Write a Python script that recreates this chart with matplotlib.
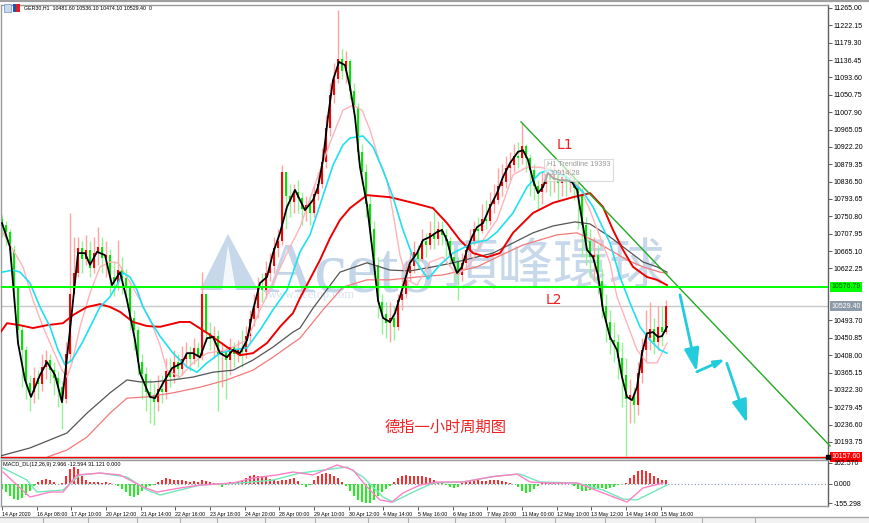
import numpy as np
import matplotlib
matplotlib.use("Agg")
import matplotlib.pyplot as plt
import matplotlib.transforms as mtransforms
from matplotlib.patches import Rectangle, Polygon
from matplotlib.lines import Line2D

plt.rcParams['font.family'] = ['Liberation Sans', 'DejaVu Sans', 'Noto Sans CJK SC']

# ---------------- data (3-hour slots, GER30) ----------------
first_open = 10745
close = [10730, 10712, 10668, 10575, 10470, 10420, 10340, 10318, 10352, 10338,
         10378, 10395, 10372, 10352, 10330, 10300, 10410, 10560, 10612, 10672,
         10645, 10668, 10622, 10660, 10675, 10648, 10655, 10600, 10585, 10618,
         10598, 10575, 10500, 10470, 10390, 10362, 10318, 10310, 10292, 10325,
         10318, 10368, 10355, 10392, 10375, 10398, 10412, 10398, 10425, 10405,
         10560, 10462, 10448, 10455, 10410, 10418, 10395, 10428, 10410, 10420,
         10415, 10455, 10498, 10525, 10580, 10570, 10610, 10628, 10672, 10690,
         10860, 10800, 10785, 10812, 10795, 10770, 10778, 10760, 10805, 10830,
         10885, 10970, 11050, 11090, 11140, 11110, 11135, 11060, 11020, 10910,
         10860, 10780, 10720, 10630, 10540, 10510, 10488, 10500, 10478, 10545,
         10560, 10610, 10628, 10662, 10645, 10690, 10680, 10710, 10695, 10720,
         10705, 10690, 10650, 10640, 10605, 10635, 10668, 10690, 10720, 10715,
         10745, 10740, 10780, 10790, 10825, 10835, 10870, 10878, 10900, 10895,
         10925, 10895, 10865, 10825, 10812, 10830, 10855, 10840, 10852, 10832,
         10848, 10835, 10842, 10820, 10805, 10730, 10690, 10650, 10655, 10590,
         10530, 10490, 10445, 10440, 10400, 10360, 10300, 10310, 10285, 10365,
         10420, 10450, 10472, 10440, 10478, 10465, 10529]
high = [10754, 10740, 10720, 10680, 10580, 10480, 10430, 10360, 10380, 10372,
        10410, 10420, 10410, 10390, 10370, 10345, 10440, 10759, 10700, 10700,
        10690, 10705, 10690, 10700, 10724, 10700, 10690, 10670, 10640, 10692,
        10650, 10620, 10590, 10520, 10480, 10410, 10380, 10350, 10340, 10360,
        10360, 10400, 10400, 10420, 10410, 10430, 10440, 10430, 10450, 10440,
        10613, 10560, 10490, 10480, 10470, 10440, 10430, 10450, 10440, 10445,
        10470, 10480, 10520, 10560, 10600, 10610, 10640, 10660, 10700, 10720,
        10877, 10850, 10830, 10830, 10840, 10810, 10800, 10800, 10830, 10860,
        10920, 11000, 11080, 11130, 11260, 11165, 11160, 11140, 11080, 11030,
        10930, 10880, 10800, 10740, 10650, 10560, 10540, 10540, 10530, 10560,
        10600, 10640, 10660, 10690, 10680, 10720, 10710, 10740, 10761, 10740,
        10740, 10720, 10700, 10670, 10650, 10660, 10690, 10720, 10740, 10750,
        10780, 10790, 10810, 10830, 10870, 10880, 10900, 10910, 10930, 10935,
        10980, 10930, 10905, 10880, 10840, 10860, 10880, 10875, 10880, 10870,
        10870, 10880, 10870, 10860, 10840, 10820, 10750, 10720, 10700, 10680,
        10620, 10560, 10520, 10490, 10460, 10440, 10400, 10350, 10330, 10390,
        10450, 10520, 10540, 10500, 10530, 10530, 10545]
low = [10700, 10680, 10640, 10540, 10440, 10330, 10300, 10270, 10290, 10300,
       10320, 10350, 10340, 10310, 10280, 10225, 10290, 10390, 10560, 10600,
       10610, 10630, 10600, 10610, 10630, 10610, 10600, 10560, 10555, 10570,
       10560, 10540, 10470, 10420, 10360, 10300, 10270, 10240, 10235, 10270,
       10290, 10300, 10330, 10340, 10350, 10360, 10380, 10370, 10385, 10380,
       10395, 10440, 10420, 10400, 10270, 10330, 10300, 10360, 10380, 10390,
       10380, 10400, 10440, 10480, 10500, 10540, 10550, 10590, 10610, 10650,
       10680, 10720, 10750, 10760, 10760, 10730, 10740, 10730, 10750, 10790,
       10820, 10870, 10950, 11030, 11080, 11090, 11080, 11040, 10990, 10890,
       10830, 10750, 10690, 10600, 10500, 10460, 10450, 10440, 10445, 10470,
       10520, 10550, 10590, 10610, 10620, 10640, 10650, 10670, 10670, 10680,
       10680, 10650, 10630, 10590, 10544, 10590, 10620, 10650, 10680, 10690,
       10710, 10720, 10730, 10760, 10780, 10800, 10820, 10840, 10860, 10870,
       10880, 10860, 10800, 10790, 10770, 10780, 10810, 10800, 10810, 10790,
       10800, 10800, 10810, 10790, 10720, 10650, 10630, 10600, 10590, 10560,
       10500, 10440, 10410, 10390, 10350, 10280, 10158, 10240, 10240, 10260,
       10340, 10390, 10420, 10410, 10420, 10430, 10460]

# moving averages (slot position, price)
black_x = [0, 2, 4, 5.75, 7.25, 9.5, 11.25, 13.25, 15, 17, 19, 20.75, 22, 23.75, 25.75, 27.5, 29.5, 31.25,
           33.25, 34.5, 37, 38.25, 40.25, 42.5, 45, 46.25, 47.75, 49.5, 51.25, 52.75, 54.5, 56.25, 57.75,
           59.5, 61.25, 62.75, 64.5, 66.25, 67.75, 69.5, 71.25, 73.25, 74.5, 75.75, 77.75, 79, 80.25, 81.5,
           82.75, 84.25, 85.75, 87, 88.25, 89.5, 91.25, 92.75, 94, 95.25, 97, 98.25, 99.5, 100.75, 102,
           103.75, 105.25, 107, 108.75, 110, 111.25, 112.5, 113.75, 115, 116.25, 117.5, 118.75, 120.25, 122,
           123.75, 125.25, 127, 129, 130.25, 131.5, 132.75, 134, 135.25, 136.5, 137.75, 139.5, 141.25, 142.5,
           143.75, 145, 146.25, 147.75, 149, 150.25, 152, 153.75, 155, 156.25, 157.5, 158.75, 160, 161.25,
           162.75, 164, 165, 166.25]
black_y = [10734, 10675, 10438, 10347, 10305, 10359, 10391, 10359, 10292, 10470, 10660, 10660, 10631, 10663,
           10655, 10581, 10613, 10544, 10445, 10364, 10305, 10302, 10339, 10376, 10389, 10413, 10413, 10403,
           10450, 10453, 10413, 10403, 10421, 10413, 10445, 10519, 10586, 10601, 10660, 10710, 10774, 10816,
           10791, 10766, 10791, 10823, 10890, 10996, 11087, 11132, 11124, 11070, 10996, 10872, 10779, 10655,
           10544, 10500, 10490, 10512, 10552, 10594, 10636, 10660, 10692, 10700, 10712, 10717, 10692, 10643,
           10611, 10626, 10668, 10700, 10724, 10734, 10774, 10808, 10848, 10882, 10910, 10914, 10890, 10840,
           10808, 10823, 10858, 10845, 10840, 10840, 10835, 10816, 10742, 10668, 10650, 10606, 10520, 10453,
           10421, 10354, 10305, 10297, 10329, 10413, 10462, 10465, 10453, 10455, 10478]
cyan_x = [0, 2.75, 4.5, 7, 9.5, 12, 14, 15.75, 17.5, 20, 22.5, 24.5, 27, 29, 30.25, 32, 33.75, 35.25, 37.5,
          39.5, 42.75, 46.25, 48.75, 51.25, 54.5, 57.75, 61.25, 64.5, 67.75, 71.25, 74.5, 77, 79.5, 82.75,
          85.25, 87, 90.25, 92.75, 95.25, 97.75, 100.25, 102.75, 106.5, 109.5, 112.75, 117.75, 121.25, 123.75,
          127.75, 131.25, 134.5, 137, 141.25, 145.25, 147.75, 152, 154.5, 157, 159.5, 162, 164.5, 166.25]
cyan_y = [10613, 10618, 10613, 10586, 10527, 10478, 10421, 10384, 10396, 10438, 10487, 10527, 10552, 10586,
          10611, 10601, 10569, 10527, 10487, 10455, 10413, 10379, 10366, 10389, 10413, 10421, 10426, 10470,
          10520, 10569, 10663, 10705, 10779, 10877, 10927, 10944, 10949, 10922, 10865, 10798, 10717, 10650,
          10596, 10631, 10660, 10685, 10692, 10712, 10759, 10823, 10858, 10865, 10848, 10811, 10774, 10685,
          10601, 10537, 10478, 10445, 10421, 10413]
pink_x = [0.25, 2.75, 5.25, 7.75, 10.25, 12.75, 15, 16.25, 17.5, 19.5, 22, 24.5, 27, 29, 31.25, 34.5, 37.75,
          39.5, 41.25, 44.5, 47.75, 51.25, 56.25, 61.25, 64.5, 67.75, 71.25, 74.5, 77.75, 82, 85.25, 87.75,
          90, 92, 94.5, 96.25, 97.75, 99.5, 101.25, 103.75, 107, 110.25, 113.75, 117, 120.25, 123.75, 127.75,
          131.25, 134.5, 137.75, 141.25, 144.5, 147, 149.5, 152, 153.75, 156.25, 158.75, 161.25, 163.75, 166.25]
pink_y = [10710, 10668, 10626, 10544, 10478, 10421, 10371, 10354, 10389, 10478, 10561, 10626, 10638, 10636,
          10601, 10544, 10478, 10433, 10371, 10354, 10389, 10413, 10421, 10445, 10520, 10586, 10660, 10724,
          10816, 10932, 11013, 11025, 11013, 10964, 10882, 10840, 10759, 10655, 10594, 10581, 10638, 10650,
          10606, 10631, 10692, 10742, 10853, 10872, 10872, 10865, 10860, 10821, 10766, 10700, 10636, 10552,
          10487, 10421, 10389, 10389, 10438]
red_x = [-0.5, 1.25, 4.5, 7.75, 11.25, 15.25, 17.75, 21.25, 24.5, 27, 29.5, 32.75, 36.25, 39.5, 44.5, 47,
         51.25, 56.25, 59.5, 62.75, 66.25, 69.5, 72.75, 74.5, 79.5, 82, 84.5, 87, 91.25, 97, 102.75, 107.75,
         111.25, 114.5, 117.75, 121.25, 124.5, 127.75, 132.75, 137.75, 142.75, 147, 150.25, 152.75, 155.25,
         157.75, 161.25, 163.75, 166.25]
red_y = [10463, 10487, 10482, 10475, 10482, 10487, 10507, 10527, 10534, 10527, 10515, 10490, 10480, 10478,
         10490, 10490, 10463, 10428, 10408, 10413, 10438, 10478, 10512, 10549, 10643, 10697, 10742, 10771,
         10803, 10798, 10784, 10771, 10734, 10692, 10660, 10650, 10660, 10710, 10759, 10784, 10798, 10808,
         10774, 10717, 10668, 10626, 10601, 10594, 10581]
grey_x = [-0.5, 7, 12, 16.25, 21.25, 27, 31.25, 34.5, 37.75, 42.75, 47.75, 52.75, 57.75, 62.75, 67.75, 72.75,
          74.5, 77.75, 80.25, 84.5, 91.25, 97, 102, 107.75, 112.75, 117.75, 122.75, 127.75, 132.75, 137.75,
          143.25, 147, 152, 156.25, 160.25, 163.75, 166.25]
grey_y = [10159, 10179, 10199, 10216, 10265, 10315, 10347, 10342, 10342, 10347, 10354, 10366, 10371, 10396,
          10428, 10465, 10475, 10524, 10557, 10613, 10636, 10618, 10616, 10626, 10636, 10648, 10660, 10685,
          10710, 10727, 10737, 10732, 10700, 10668, 10638, 10626, 10613]
salmon_x = [11.5, 16.25, 21.25, 27, 31.25, 36.25, 42.75, 49.5, 56.25, 62.75, 67.75, 72.75, 74.5, 80.25, 85.25,
            91.25, 97, 103.75, 110.25, 118.75, 123.75, 130.25, 138.75, 143.75, 147.75, 152, 156.25, 160.25,
            164.5, 166.25]
salmon_y = [10157, 10174, 10206, 10265, 10302, 10305, 10315, 10329, 10347, 10371, 10403, 10438, 10450, 10520,
            10576, 10594, 10594, 10601, 10606, 10626, 10650, 10680, 10705, 10710, 10692, 10668, 10643, 10626,
            10613, 10610]

# MACD panel
macd_hist = [-40, -70, -100, -125, -130, -115, -90, -55, -20, 10,
             25, 35, 30, 15, -5, 5, 60, 110, 130, 115,
             60, 25, 15, 12, 10, 5, 8, 3, -5, -20,
             -45, -70, -100, -105, -90, -60, -35, -20, -10, 15,
             30, 40, 35, 30, 30, 25, 20, 15, 18, 15,
             25, 20, 10, 5, -15, -25, -10, 10, 15, 12,
             20, 40, 55, 65, 60, 55, 50, 35, 25, 20,
             25, 30, 35, 40, 20, -15, -30, -10, 30, 60,
             75, 82, 75, 60, 40, 15, -20, -60, -100, -130,
             -145, -153, -150, -130, -95, -70, -45, -20, 15, 45,
             60, 65, 62, 60, 58, 55, 50, 40, 25, 15,
             10, -10, -30, -35, -25, 5, 20, 28, 30, 25,
             22, 20, 25, 28, 25, 20, 8, 2, -5, -25,
             -55, -75, -70, -45, -20, 5, 8, 6, 5, 4,
             3, 2, -5, -20, -45, -55, -60, -50, -45, -40,
             -35, -40, -35, -30, -15, -5, 5, 40, 70, 95,
             105, 100, 80, 60, 40, 30, 28]
macd_main_x = [0.25, 7, 12, 15.25, 18.75, 24.5, 29.5, 35.25, 38.75, 44.5, 49.5, 57.75, 62.75, 68.75, 72.75,
               77.75, 83.75, 87.75, 91.25, 94.5, 97.5, 100.25, 104.5, 108.75, 115.25, 122, 128.75, 132,
               136.25, 143.75, 150.25, 156.25, 160.25, 165.25]
macd_main = [90, -106, -67, -67, 67, 82, 67, -27, -67, -35, -12, 4, 43, 67, 90, 67, 145, 106, -27, -129,
             -145, -74, -12, 12, 12, 51, 74, 12, 4, 4, -74, -145, -35, 4]
macd_sig_x = [0.25, 6.25, 8.75, 15.25, 19.5, 24.5, 31.25, 36.25, 39.5, 49.5, 59.5, 67.75, 74.5, 86.25, 90.25,
              95.25, 97.75, 102.75, 107.75, 115.25, 123.75, 129.5, 134.5, 143.75, 150.25, 155.25, 158.75,
              163.75, 166.25]
macd_sig = [121, 27, -67, -51, 67, 82, 51, -51, -90, -12, 4, 27, 82, 129, 51, -106, -145, -67, 4, 12, 59, 74,
            12, 4, -51, -121, -129, -51, -12]

price_ticks = [11265.00, 11222.15, 11179.30, 11136.45, 11093.60, 11050.75, 11007.90, 10965.05, 10922.20,
               10879.35, 10836.50, 10793.65, 10750.80, 10707.95, 10665.10, 10622.25, 10493.70, 10450.85,
               10408.00, 10365.15, 10322.30, 10279.45, 10236.60, 10193.75]
time_labels = ["14 Apr 2020", "16 Apr 08:00", "17 Apr 10:00", "20 Apr 12:00", "21 Apr 14:00",
               "22 Apr 16:00", "23 Apr 18:00", "24 Apr 20:00", "28 Apr 00:00", "29 Apr 10:00",
               "30 Apr 12:00", "4 May 14:00", "5 May 16:00", "6 May 18:00", "7 May 20:00",
               "11 May 00:00", "12 May 10:00", "13 May 12:00", "14 May 14:00", "15 May 16:00"]
level_l2 = 10576.79
level_bid = 10529.40
level_low = 10157.60
trend_pts = ([129.75, 207.0], [10984, 10184])

# ---------------- figure ----------------
W, H = 870, 523
def fx(px): return px / W
def fy(py): return 1 - py / H

SMALL = 'Liberation Sans'

fig = plt.figure(figsize=(8.7, 5.23), dpi=100)
fig.patch.set_facecolor('white')
ax = fig.add_axes([fx(1), fy(458), fx(828) - fx(1), fy(5) - fy(458)])
ax2 = fig.add_axes([fx(1), fy(506), fx(828) - fx(1), fy(460) - fy(506)])

XL = (-0.25, 206.5)
ax.set_xlim(*XL)
ax.set_ylim(10154.2, 11272.4)
ax2.set_xlim(*XL)
ax2.set_ylim(-176, 184)

# watermark
wm = '#b4cbe3'
ax.add_patch(Polygon([[fx(200), fy(290)], [fx(228), fy(234)], [fx(258), fy(290)]], closed=True,
                     transform=fig.transFigure, fc=wm, ec='none', alpha=0.75, zorder=0.4))
ax.add_patch(Polygon([[fx(222), fy(290)], [fx(228), fy(245)], [fx(236), fy(290)]], closed=True,
                     transform=fig.transFigure, fc='white', ec='none', alpha=0.8, zorder=0.45))
ax.text(fx(262), fy(291), 'Aceto', transform=fig.transFigure, fontsize=52, family='Liberation Serif',
        color=wm, alpha=0.8, va='baseline', ha='left', zorder=0.5, clip_on=False)
ax.text(fx(443), fy(268), '頂峰環球', transform=fig.transFigure, fontsize=40, family=['Noto Sans CJK TC'],
        color=wm, alpha=0.75, va='center', ha='left', zorder=0.5, clip_on=False)
ax.text(fx(268), fy(295), 'www.acetop.com', transform=fig.transFigure, fontsize=9, family='Liberation Serif',
        color='#d5e2ef', va='center', ha='left', zorder=0.5, clip_on=False)

# horizontal levels
ax.axhline(level_l2, color='#00ff00', lw=1.4, zorder=3.6)
ax.axhline(level_bid, color='#c8c8c8', lw=1.0, zorder=1.5)
ax.axhline(level_low, color='#ff0000', lw=1.0, zorder=3.6)

# candles
xs = np.arange(len(close))
c = np.array(close, float)
o = np.r_[first_open, c[:-1]]
hi = np.maximum(np.array(high, float), np.maximum(o, c))
lo = np.minimum(np.array(low, float), np.minimum(o, c))
up = c >= o
ax.vlines(xs, lo, hi, colors=np.where(up, '#ffa4a4', '#96f096'), lw=1.0, zorder=2)
ax.bar(xs, np.maximum(np.abs(c - o), 1.5), bottom=np.minimum(c, o), width=0.5,
       color=np.where(up, '#ff0000', '#00e600'), linewidth=0, zorder=2.5)

# moving averages
ax.plot(salmon_x, salmon_y, color='#f27a7a', lw=0.9, zorder=3)
ax.plot(grey_x, grey_y, color='#555555', lw=0.9, zorder=3)
ax.plot(pink_x, pink_y, color='#ffb3ba', lw=1.0, zorder=3)
ax.plot(red_x, red_y, color='#ee0000', lw=1.4, zorder=3.2)
ax.plot(cyan_x, cyan_y, color='#1fe0f0', lw=1.2, zorder=3.3)
ax.plot(black_x, black_y, color='black', lw=1.3, zorder=3.4)

# trendline
ax.plot(trend_pts[0], trend_pts[1], color='#22aa22', lw=1.0, zorder=3.5, clip_on=False)

# tooltip
ax.add_patch(Rectangle((fx(544), fy(181)), fx(613) - fx(544), fy(159) - fy(181), transform=fig.transFigure,
                       fc='white', alpha=0.65, ec='#c8c8c8', lw=0.8, zorder=5, clip_on=False))
ax.text(fx(547), fy(164.5), 'H1 Trendline 19393', transform=fig.transFigure, fontsize=5.2, color='#9a9a9a',
        family=SMALL, va='center', ha='left', zorder=5.1)
ax.text(fx(549), fy(174), '10914.28', transform=fig.transFigure, fontsize=5.2, color='#9a9a9a',
        family=SMALL, va='center', ha='left', zorder=5.1)

# annotations
ax.text(140.75, 10927, 'L1', color='#ee2222', fontsize=10, family='DejaVu Sans', ha='center', va='center',
        zorder=6)
ax.text(138.0, 10545, 'L2', color='#ee2222', fontsize=10, family='DejaVu Sans', ha='center', va='center',
        zorder=6)
ax.text(111.0, 10231, '德指一小时周期图', color='#ee2222', fontsize=11, family=['Noto Sans CJK SC'],
        ha='center', va='center', zorder=6)

acol = '#22ccdd'
def arrow(p0, p1, hl, hw):
    ax.annotate('', xy=p1, xytext=p0, zorder=6,
                arrowprops=dict(arrowstyle='-|>,head_length=%s,head_width=%s' % (hl, hw),
                                color=acol, lw=2.0, shrinkA=0, shrinkB=0))
arrow((169.5, 10557), (173.7, 10367), 1.4, 0.45)
arrow((173.7, 10367), (180.75, 10398), 0.6, 0.2)
arrow((181.2, 10388), (186.3, 10240), 1.4, 0.45)

# axes styling
for a in (ax, ax2):
    for s in a.spines.values():
        s.set_color('#9a9a9a')
        s.set_linewidth(1.0)
    a.spines['right'].set_color('#606060')
    a.set_facecolor('white')
ax.set_xticks([])
ax.yaxis.tick_right()
ax.set_yticks(price_ticks)
ax.set_yticklabels(['%.2f' % v for v in price_ticks], family=SMALL)
ax.tick_params(axis='y', direction='out', length=3, width=0.6, color='#404040', labelsize=5, pad=1)

trans = mtransforms.blended_transform_factory(ax.transAxes, ax.transData)
def price_box(v, fc, tc):
    ax.text(1.0045, v, '%.2f' % v, transform=trans, fontsize=5, family=SMALL, va='center', ha='left',
            color=tc, bbox=dict(boxstyle='square,pad=0.2', fc=fc, ec='none'), clip_on=False, zorder=10)
price_box(level_l2, '#00ff00', '#1a5e1a')
price_box(level_bid, '#8d9aa8', 'white')
price_box(level_low, '#ff0000', 'white')
ax.plot([1.0], [level_low], marker='s', ms=3, color='black', transform=trans, clip_on=False, zorder=11)

# MACD panel
ax2.axhline(0, color='#8090a8', lw=0.8, ls=(0, (1, 2)), zorder=1)
ax2.bar(xs, macd_hist, width=0.5, color=np.where(np.array(macd_hist) >= 0, '#ff2a2a', '#22ee22'),
        linewidth=0, zorder=2)
ax2.plot(macd_sig_x, macd_sig, color='#70e8b8', lw=1.0, zorder=3)
ax2.plot(macd_main_x, macd_main, color='#ff80c8', lw=1.0, zorder=3.1)
ax2.yaxis.tick_right()
ax2.set_yticks([162.57, 0.0, -155.298])
ax2.set_yticklabels(['162.570', '0.000', '-155.298'], family=SMALL)
ax2.tick_params(axis='y', direction='out', length=3, width=0.6, color='#404040', labelsize=5, pad=1)
ax2.set_xticks([k * 26 / 3 for k in range(len(time_labels))])
ax2.set_xticklabels(time_labels, family=SMALL)
ax2.tick_params(axis='x', direction='out', length=3, width=0.6, color='#404040', labelsize=3.8, pad=1.5)
for t in ax2.get_xticklabels():
    t.set_ha('left')
ax2.text(0.003, 0.95, 'MACD_DL(12,26,9) 2.966 -12.594 31.121 0.000', transform=ax2.transAxes,
         fontsize=4.0, family=SMALL, va='top', ha='left', zorder=5)

# header & window chrome
fig.text(fx(24), fy(8), 'GER30,H1  10481.60 10536.10 10474.10 10529.40  0', fontsize=3.8, family=SMALL,
         va='center', ha='left')
fig.add_artist(Rectangle((fx(4), fy(12)), fx(7), fy(4) - fy(12), transform=fig.transFigure,
                         fc='#c8d8f0', ec='#7090c0', lw=0.5))
fig.add_artist(Rectangle((fx(13), fy(12)), fx(3.5), fy(4) - fy(12), transform=fig.transFigure,
                         fc='#2050c0', ec='none'))
fig.add_artist(Rectangle((fx(16.5), fy(12)), fx(3.5), fy(4) - fy(12), transform=fig.transFigure,
                         fc='#e02020', ec='none'))
fig.add_artist(Line2D([0, 1], [fy(1.2), fy(1.2)], transform=fig.transFigure, color='#a0a0a0', lw=1.6))
fig.add_artist(Rectangle((0, 0), 1, fy(517), transform=fig.transFigure, fc='#f2f2f2', ec='none'))
fig.add_artist(Line2D([0, 1], [fy(517), fy(517)], transform=fig.transFigure, color='#a8a8a8', lw=1.0))
for tx in [43, 88, 137, 180, 217, 265, 315, 368, 408, 455, 505, 555, 605, 655, 702, 755]:
    fig.add_artist(Line2D([fx(tx), fx(tx)], [0, fy(517)], transform=fig.transFigure, color='#b0b0b0', lw=0.8))

fig.savefig('out.png', dpi=100)
